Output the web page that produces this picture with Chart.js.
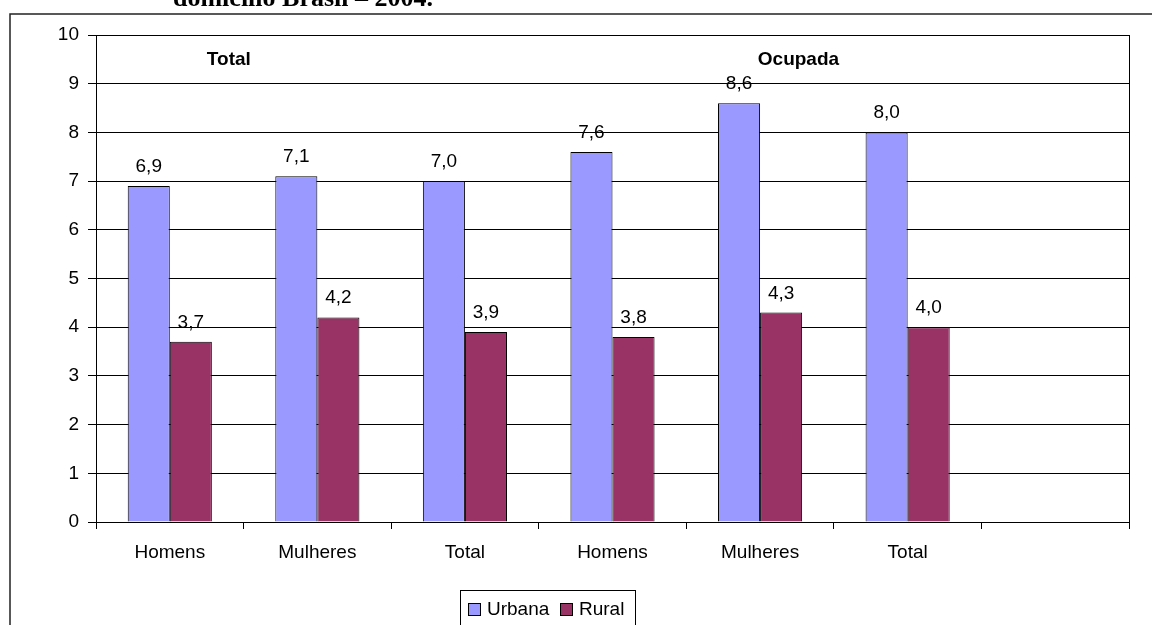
<!DOCTYPE html>
<html>
<head>
<meta charset="utf-8">
<script src="https://cdn.jsdelivr.net/npm/chart.js@4/dist/chart.umd.min.js"></script>
<style>
  html, body { margin: 0; padding: 0; background: #fff; overflow: hidden; }
  #wrap { position: relative; width: 1152px; height: 625px; }
  #title {
    position: absolute; left: 173px; top: -15px; white-space: nowrap;
    font: bold 26px/26px "Liberation Serif", "Times New Roman", serif; color: #000;
  }
  canvas { position: absolute; left: 0; top: 0; }
</style>
</head>
<body>
<div id="wrap">
  <canvas id="chart" width="1152" height="625"></canvas>
  <div id="title">domicílio Brasil – 2004.</div>
</div>
<script>
const categories = ['Homens', 'Mulheres', 'Total', 'Homens', 'Mulheres', 'Total', ''];
const urbana = [6.9, 7.1, 7.0, 7.6, 8.6, 8.0, null];
const rural = [3.7, 4.2, 3.9, 3.8, 4.3, 4.0, null];
const groupLabels = ['Total', 'Ocupada'];
const groupPos = [0.4, 4.26];

const FONT = '"Liberation Sans", Arial, sans-serif';

const extras = {
  id: 'extras',
  beforeDraw(chart) {
    const ctx = chart.ctx;
    ctx.save();
    // outer frame
    ctx.strokeStyle = '#222';
    ctx.lineWidth = 1.5;
    ctx.beginPath();
    ctx.moveTo(10, 625);
    ctx.lineTo(10, 14);
    ctx.lineTo(1152, 14);
    ctx.stroke();
    ctx.restore();
  },
  afterDraw(chart) {
    const ctx = chart.ctx;
    const area = chart.chartArea;
    const x = chart.scales.x, y = chart.scales.y;
    ctx.save();
    // right edge of plot
    ctx.strokeStyle = '#000';
    ctx.lineWidth = 1;
    ctx.beginPath();
    ctx.moveTo(Math.round(area.right) + 0.5, area.top);
    ctx.lineTo(Math.round(area.right) + 0.5, area.bottom);
    ctx.stroke();

    // value labels
    ctx.fillStyle = '#000';
    ctx.font = '19px ' + FONT;
    ctx.textAlign = 'center';
    ctx.textBaseline = 'alphabetic';
    chart.data.datasets.forEach((ds, i) => {
      chart.getDatasetMeta(i).data.forEach((bar, j) => {
        const v = ds.data[j];
        if (v == null) return;
        ctx.fillText(v.toFixed(1).replace('.', ','), bar.x, bar.y - 14);
      });
    });

    // group labels
    ctx.font = 'bold 19px ' + FONT;
    groupLabels.forEach((t, i) => {
      ctx.fillText(t, x.getPixelForValue(groupPos[i]), y.getPixelForValue(9.38));
    });

    // legend box
    const lx = 460, ly = 590;
    ctx.lineWidth = 1;
    ctx.strokeStyle = '#000';
    ctx.strokeRect(lx + 0.5, ly + 0.5, 175, 40);
    ctx.font = '19px ' + FONT;
    ctx.textAlign = 'left';
    const items = [[468, 487], [560, 579]];
    chart.data.datasets.forEach((ds, i) => {
      const [sx, tx] = items[i];
      ctx.fillStyle = ds.backgroundColor;
      ctx.fillRect(sx, 603, 12, 12);
      ctx.strokeRect(sx + 0.5, 603.5, 12, 12);
      ctx.fillStyle = '#000';
      ctx.fillText(ds.label, tx, 615);
    });
    ctx.restore();
  }
};

new Chart(document.getElementById('chart'), {
  type: 'bar',
  data: {
    labels: categories,
    datasets: [
      { label: 'Urbana', data: urbana, backgroundColor: '#9999FF', borderColor: '#000', borderWidth: 1 },
      { label: 'Rural', data: rural, backgroundColor: '#993366', borderColor: '#000', borderWidth: 1 }
    ]
  },
  options: {
    responsive: false,
    animation: false,
    layout: { padding: { left: 0, right: 23, top: 35, bottom: 0 } },
    datasets: { bar: { categoryPercentage: 0.57, barPercentage: 1 } },
    plugins: {
      legend: { display: false },
      tooltip: { enabled: false }
    },
    scales: {
      x: {
        grid: { drawOnChartArea: false, color: '#000', tickLength: 7, offset: true },
        border: { color: '#000', width: 1 },
        ticks: { color: '#000', font: { family: FONT, size: 19 }, padding: 12, maxRotation: 0 },
        afterFit(scale) { scale.height = 103; }
      },
      y: {
        min: 0, max: 10,
        grid: { color: '#000', tickLength: 8 },
        border: { color: '#000', width: 1 },
        ticks: { stepSize: 1, color: '#000', font: { family: FONT, size: 19 }, padding: 9 },
        afterFit(scale) { scale.width = 96; }
      }
    }
  },
  plugins: [extras]
});
</script>
</body>
</html>
